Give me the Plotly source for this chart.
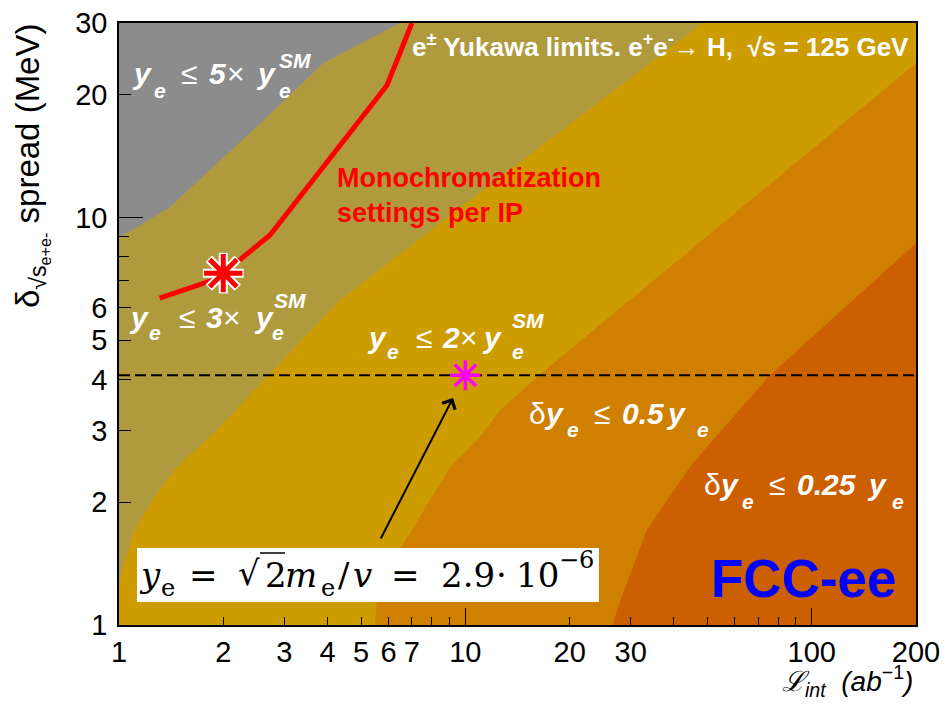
import plotly.graph_objects as go
import numpy as np

# ---------------- data ----------------
# region boundaries (L_int [ab^-1], delta [MeV])
grey_olive_L = [1.0, 1.13, 1.40, 1.83, 2.61, 3.88, 6.47]
grey_olive_d = [8.95, 9.47, 10.6, 13.1, 17.3, 23.9, 30.0]

olive_yellow_L = [1.0, 1.10, 1.25, 1.47, 1.92, 2.68, 4.35, 11.0, 48.5]
olive_yellow_d = [1.27, 1.68, 2.03, 2.44, 3.01, 4.08, 6.27, 11.5, 30.0]

yellow_orange_L = [5.48, 5.6, 6.92, 9.03, 11.0, 12.6, 16.1, 56.9, 200.0]
yellow_orange_d = [1.0, 1.27, 1.68, 2.44, 2.89, 3.37, 4.06, 9.86, 23.9]

orange_dark_L = [26.7, 27.4, 33.4, 45.4, 75.7, 200.0]
orange_dark_d = [1.0, 1.09, 1.71, 2.50, 4.10, 8.65]

# monochromatization settings (red curve)
mono_L = [1.31, 1.87, 2.23, 2.73, 5.94, 7.01]
mono_d = [6.34, 7.02, 7.86, 9.06, 21.1, 30.0]

red_star_L, red_star_d = [2.0], [7.3]
mag_star_L, mag_star_d = [10.0], [4.1]
higgs_width = 4.1

x_ticks = [1, 2, 3, 4, 5, 6, 7, 10, 20, 30, 100, 200]
x_minor = [8, 9, 40, 50, 60, 70, 80, 90]
x_decades = [10, 100]
y_ticks = [1, 2, 3, 4, 5, 6, 10, 20, 30]
y_minor = [7, 8, 9]
y_decades = [10]

X_MIN, X_MAX = 1.0, 200.0
Y_MIN, Y_MAX = 1.0, 30.0

# ---------------- colours ----------------
C_GREY = "#8c8c8c"
C_OLIVE = "#b09a3e"
C_YELLOW = "#cc9c00"
C_ORANGE = "#d08000"
C_DARK = "#cc6000"

fig = go.Figure()

def region(L, d, extra_L, extra_d, color):
    fig.add_trace(go.Scatter(x=list(L) + extra_L, y=list(d) + extra_d,
                             mode="lines", fill="toself", fillcolor=color,
                             line=dict(width=0, color=color),
                             hoverinfo="skip", showlegend=False))

region(orange_dark_L, orange_dark_d, [X_MAX, X_MIN, X_MIN], [Y_MAX, Y_MAX, Y_MIN], C_ORANGE)
region(yellow_orange_L, yellow_orange_d, [X_MAX, X_MIN, X_MIN], [Y_MAX, Y_MAX, Y_MIN], C_YELLOW)
region(olive_yellow_L, olive_yellow_d, [X_MIN], [Y_MAX], C_OLIVE)
region(grey_olive_L, grey_olive_d, [X_MIN], [Y_MAX], C_GREY)

fig.add_trace(go.Scatter(x=[X_MIN, X_MAX], y=[higgs_width, higgs_width], mode="lines",
                         line=dict(color="black", width=2, dash="11px,5px"),
                         hoverinfo="skip", showlegend=False))
fig.add_trace(go.Scatter(x=mono_L, y=mono_d, mode="lines",
                         line=dict(color="#ff0000", width=5),
                         hoverinfo="skip", showlegend=False))
fig.add_trace(go.Scatter(x=red_star_L, y=red_star_d, mode="markers",
                         marker=dict(symbol="asterisk-open", size=34, color="white",
                                     line=dict(color="white", width=9)),
                         hoverinfo="skip", showlegend=False))
fig.add_trace(go.Scatter(x=red_star_L, y=red_star_d, mode="markers",
                         marker=dict(symbol="asterisk-open", size=32, color="#ff0000",
                                     line=dict(color="#ff0000", width=5)),
                         hoverinfo="skip", showlegend=False))
fig.add_trace(go.Scatter(x=mag_star_L, y=mag_star_d, mode="markers",
                         marker=dict(symbol="asterisk-open", size=25, color="#ff00ff",
                                     line=dict(color="#ff00ff", width=3.5)),
                         hoverinfo="skip", showlegend=False))
# invisible trace so the decade-tick overlay axes are drawn
fig.add_trace(go.Scatter(x=[X_MIN], y=[Y_MIN], xaxis="x2", yaxis="y2", mode="markers",
                         marker=dict(opacity=0), hoverinfo="skip", showlegend=False))

# ---------------- layout geometry ----------------
# the page body has an 8px margin: the figure is shrunk so the plot frame
# lands at x 119..916, y 23..625 of the window
OFF = 8
W, H = 949 - OFF, 704 - OFF
FX0, FX1, FY0, FY1 = 119, 916, 23, 625
ML, MR, MT, MB = FX0 - OFF, (W + OFF) - FX1, FY0 - OFF, (H + OFF) - FY1

def px(x):
    return (x - FX0) / (FX1 - FX0)

def py(y):
    return (FY1 - y) / (FY1 - FY0)

SANS = "Liberation Sans, Arial, sans-serif"
SERIF = "DejaVu Serif, Liberation Serif, serif"
NB = "\u00a0"

ann = []

def txt(x, y, text, size=30, color="white", xanchor="left", yanchor="middle", family=SANS, **kw):
    ann.append(dict(x=px(x), y=py(y), xref="paper", yref="paper", text=text,
                    showarrow=False, xanchor=xanchor, yanchor=yanchor, borderpad=0,
                    font=dict(family=family, size=size, color=color), **kw))

def bi(s):
    return "<b><i>" + s + "</i></b>"

MAIN, SUB = 30, 21

def limit_label(parts, yc, ysub, ysm=None):
    for kind, x, s in parts:
        if kind == "m":
            txt(x - 2, yc, s, size=MAIN)
        elif kind == "s":
            txt(x - 2, ysub, bi(s), size=SUB)
        elif kind == "S":
            txt(x - 2, ysm, bi(s), size=SUB)

limit_label([("m", 133, bi("y")), ("s", 155, "e"), ("m", 182, "≤"), ("m", 210, bi("5")),
             ("m", 228, "×"), ("m", 257, bi("y")), ("s", 280, "e"), ("S", 280, "SM")], 73, 90, 60)
limit_label([("m", 130, bi("y")), ("s", 150, "e"), ("m", 180, "≤"), ("m", 207, bi("3")),
             ("m", 224, "×"), ("m", 255, bi("y")), ("s", 273, "e"), ("S", 275, "SM")], 317, 333, 300)
limit_label([("m", 368, bi("y")), ("s", 388, "e"), ("m", 417, "≤"), ("m", 443, bi("2")),
             ("m", 461, "×"), ("m", 483, bi("y")), ("s", 513, "e"), ("S", 513, "SM")], 337, 351, 320)
limit_label([("m", 530, "δ"), ("m", 545, bi("y")), ("s", 568, "e"), ("m", 595, "≤"),
             ("m", 623, bi("0.5")), ("m", 667, bi("y")), ("s", 698, "e")], 413, 429)
limit_label([("m", 705, "δ"), ("m", 720, bi("y")), ("s", 743, "e"), ("m", 770, "≤"),
             ("m", 798, bi("0.25")), ("m", 868, bi("y")), ("s", 893, "e")], 484, 501)

txt(411, 45, "<b>e<sup>±</sup> Yukawa limits. e<sup>+</sup>e<sup>-</sup>→ H," + NB * 2 + "√s = 125 GeV</b>", size=26)
txt(336, 195, "<b>Monochromatization<br>settings per IP</b>", size=27, color="#ff0000", align="left")
txt(898, 578, "<b>FCC-ee</b>", size=53, color="#0000ff", xanchor="right")

# formula (white box + pieces)
FM, FS = 34, 24
for x, y, s, size in [(138, 575, "<i>y</i>", FM), (160, 588, "e", FS), (188, 575, "=", FM),
                      (237, 573, "√", FM), (264, 575, "2", FM), (284, 575, "<i>m</i>", FM),
                      (320, 588, "e", FS), (337, 575, "/", FM), (352, 575, "<i>v</i>", FM),
                      (390, 575, "=", FM), (440, 575, "2.9", FM), (495, 575, "·", FM),
                      (515, 575, "10", FM), (558, 560, "−6", FS)]:
    txt(x, y, s, size=size, color="black", family=SERIF)

ann.append(dict(x=px(453), y=py(398), xref="paper", yref="paper", text="",
                showarrow=True, ax=380 - 453, ay=540 - 398,
                arrowhead=4, arrowsize=1.4, arrowwidth=2, arrowcolor="black"))

# axis titles
txt(914, 681, "<i>ℒ</i><sub><i>int</i></sub>" + NB * 2 + "<i>(ab</i><sup>−1</sup><i>)</i>", size=28,
    color="black", xanchor="right")
ann.append(dict(x=px(32), y=py(22), xref="paper", yref="paper",
                text="δ<sub>√s<sub>e+e-</sub></sub> spread (MeV)", textangle=-90,
                showarrow=False, xanchor="center", yanchor="top",
                font=dict(family=SANS, size=33, color="black")))

shapes = [
    dict(type="rect", xref="paper", yref="paper", x0=px(137), x1=px(599), y0=py(602), y1=py(548),
         fillcolor="white", line=dict(width=0), layer="above"),
    dict(type="line", xref="paper", yref="paper", x0=px(260), x1=px(285), y0=py(553), y1=py(553),
         line=dict(color="black", width=1.5), layer="above"),
]

axis_common = dict(type="log", automargin=False, showgrid=False, zeroline=False,
                   tickcolor="black", tickwidth=1)
fig.update_layout(
    width=W, height=H,
    margin=dict(l=ML, r=MR, t=MT, b=MB, autoexpand=False),
    paper_bgcolor="white", plot_bgcolor=C_DARK,
    showlegend=False, annotations=ann, shapes=shapes,
    xaxis=dict(axis_common, range=[np.log10(X_MIN), np.log10(X_MAX)],
               tickvals=x_ticks, ticktext=[str(v) for v in x_ticks],
               ticks="inside", ticklen=8, ticklabeloverflow="allow",
               minor=dict(tickvals=x_minor, ticks="inside", ticklen=8, tickcolor="black"),
               showline=True, linecolor="black", linewidth=1.5, mirror=True,
               tickfont=dict(family=SANS, size=29, color="black")),
    yaxis=dict(axis_common, range=[np.log10(Y_MIN), np.log10(Y_MAX)],
               tickvals=y_ticks, ticktext=[str(v) for v in y_ticks],
               ticks="inside", ticklen=12, ticklabelstandoff=4, ticklabeloverflow="allow",
               minor=dict(tickvals=y_minor, ticks="inside", ticklen=10, tickcolor="black"),
               showline=True, linecolor="black", linewidth=1.5, mirror=True,
               tickfont=dict(family=SANS, size=29, color="black")),
    xaxis2=dict(axis_common, range=[np.log10(X_MIN), np.log10(X_MAX)], overlaying="x",
                side="bottom", anchor="y", tickvals=x_decades, ticks="inside", ticklen=17,
                showticklabels=False, showline=False),
    yaxis2=dict(axis_common, range=[np.log10(Y_MIN), np.log10(Y_MAX)], overlaying="y",
                side="left", anchor="x", tickvals=y_decades, ticks="inside", ticklen=24,
                showticklabels=False, showline=False),
)

fig.write_html("out.html")
